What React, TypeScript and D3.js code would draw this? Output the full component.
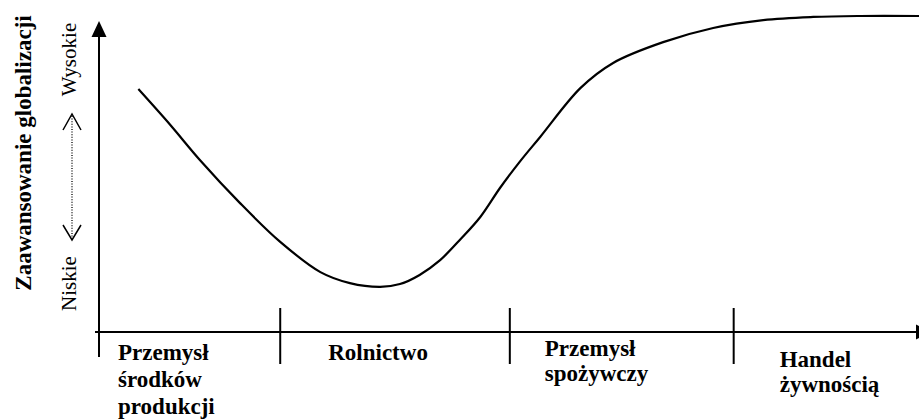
import * as d3 from "d3";

// Stage boundaries along the horizontal axis (0-100 scale)
const stageBounds = [0, 22.1, 50.1, 77.4];
const stageNames = [
  ["Przemysł", "środków", "produkcji"],
  ["Rolnictwo"],
  ["Przemysł", "spożywczy"],
  ["Handel", "żywnością"],
];

// Globalization level curve (x: 0-100, level: 0-100)
const curveX = [4.8, 8.7, 12.3, 17.2, 22.1, 27.0, 30.6, 34.3, 36.7, 39.1, 41.6, 44.0, 46.5, 48.9, 51.3, 53.8, 58.7, 62.7, 68.8, 74.9, 81.0, 87.1, 92.8, 100];
const curveLevel = [76.8, 65.4, 54.3, 40.6, 28.3, 18.7, 15.2, 14.0, 14.9, 17.8, 22.5, 28.9, 36.2, 45.4, 53.7, 61.6, 77.1, 85.1, 91.7, 96.2, 98.7, 99.7, 100, 100];

const yTitle = "Zaawansowanie globalizacji";
const levelLabels = ["Niskie", "Wysokie"];

// label layout: x offset from boundary, first baseline, line step
const labelLayout = [
  { dx: 19, y: 360, step: 27 },
  { dx: 48, y: 360, step: 27 },
  { dx: 35, y: 356, step: 25 },
  { dx: 46, y: 367, step: 25 },
];

const W = 919;
const H = 419;
const font = '"Liberation Serif", "Times New Roman", Times, serif';

export default function App() {
  const x = d3.scaleLinear().domain([0, 100]).range([99, 919]);
  const y = d3.scaleLinear().domain([0, 100]).range([331, 16]);
  const axisY = 332;
  const axisX = 99;

  const pts: [number, number][] = curveX.map((v, i) => [x(v), y(curveLevel[i])]);
  const line = d3.line().curve(d3.curveCatmullRom.alpha(0.5));
  const path = line(pts) || "";
  const textStyle = { fontFamily: font };

  return (
    <svg
      width={W}
      height={H}
      style={{ position: "absolute", left: 0, top: 0, background: "#fff", fontFamily: font }}
    >
      <rect width={W} height={H} fill="#fff" />

      {/* y axis */}
      <line x1={axisX} x2={axisX} y1={357} y2={34} stroke="#000" strokeWidth={2} />
      <path d={`M${axisX},21 L${axisX - 7.5},37 L${axisX + 7.5},37 Z`} fill="#000" />

      {/* x axis */}
      <line x1={95} x2={918} y1={axisY} y2={axisY} stroke="#000" strokeWidth={2} />
      <path d={`M916,${axisY - 7.5} L931,${axisY} L916,${axisY + 7.5} Z`} fill="#000" />

      {/* stage boundary ticks */}
      {stageBounds.slice(1).map((b, i) => (
        <line key={i} x1={x(b)} x2={x(b)} y1={308} y2={364} stroke="#000" strokeWidth={2} />
      ))}

      {/* curve */}
      <path d={path} fill="none" stroke="#000" strokeWidth={2.2} />

      {/* stage labels */}
      {stageNames.map((lines, i) => (
        <text
          key={i}
          x={x(stageBounds[i]) + labelLayout[i].dx}
          y={labelLayout[i].y}
          fontSize={23}
          fontWeight="bold"
          fill="#000"
          style={textStyle}
        >
          {lines.map((t, j) => (
            <tspan key={j} x={x(stageBounds[i]) + labelLayout[i].dx} y={labelLayout[i].y + j * labelLayout[i].step}>
              {t}
            </tspan>
          ))}
        </text>
      ))}

      {/* y title */}
      <text
        transform="translate(31,153) rotate(-90)"
        textAnchor="middle"
        fontSize={23}
        fontWeight="bold"
        fill="#000"
        style={textStyle}
      >
        {yTitle}
      </text>

      {/* low / high labels */}
      <text transform="translate(76,283.5) rotate(-90)" textAnchor="middle" fontSize={21} fill="#000" style={textStyle}>
        {levelLabels[0]}
      </text>
      <text transform="translate(76,59.5) rotate(-90)" textAnchor="middle" fontSize={21} fill="#000" style={textStyle}>
        {levelLabels[1]}
      </text>

      {/* dotted double arrow */}
      <line x1={72} x2={72} y1={116} y2={238} stroke="#000" strokeWidth={1.3} strokeDasharray="1,1.6" />
      <polyline points="63,130 72,114 81,130" fill="none" stroke="#000" strokeWidth={1.5} />
      <polyline points="63,225 72,240 81,225" fill="none" stroke="#000" strokeWidth={1.5} />
    </svg>
  );
}
